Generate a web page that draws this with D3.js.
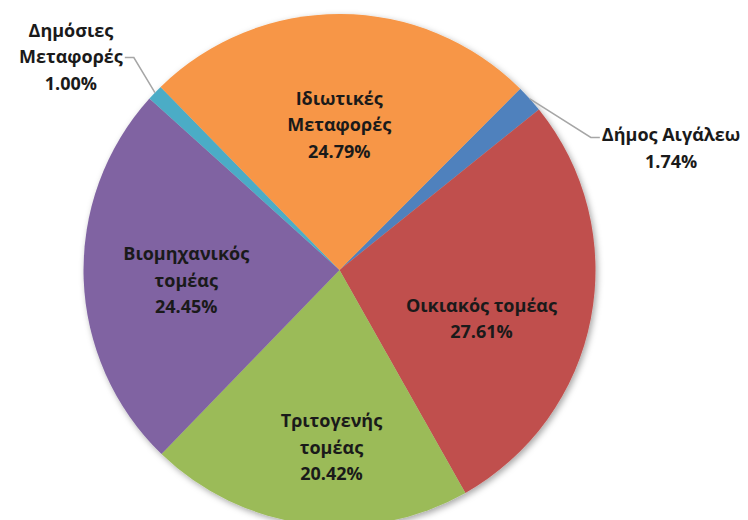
<!DOCTYPE html>
<html><head><meta charset="utf-8">
<script src="https://cdn.jsdelivr.net/npm/d3@7"></script>
<style>
html,body{margin:0;padding:0;background:#fff;}
text{font-family:"Open Sans",sans-serif;font-weight:bold;fill:#1a1a1a;}
</style></head>
<body><svg id="chart" width="748" height="520"></svg>
<script>
// ---- data ----
const categories = ["Δήμος Αιγάλεω", "Οικιακός τομέας", "Τριτογενής τομέας", "Βιομηχανικός τομέας", "Δημόσιες Μεταφορές", "Ιδιωτικές Μεταφορές"];
const labelLines = [["Δήμος Αιγάλεω"], ["Οικιακός τομέας"], ["Τριτογενής", "τομέας"], ["Βιομηχανικός", "τομέας"], ["Δημόσιες", "Μεταφορές"], ["Ιδιωτικές", "Μεταφορές"]];
const values = [1.74, 27.61, 20.42, 24.45, 1.00, 24.79];
const colors = ["#4F81BD", "#C0504D", "#9BBB59", "#8064A2", "#4BACC6", "#F79646"];

// ---- layout (label placement: radius factor & angle shift in degrees) ----
const labelRadius = [1.38, 0.586, 0.694, 0.60, 1.34, 0.567];
const labelAngleShift = [21.8, 8.0, -4.7, -1.9, -5.4, -0.4];
const outside = [true, false, false, false, true, false];

const W = 748, H = 520;
const cx = 339.5, cy = 270, R = 256;
const startDeg = 44.9;
const fontSize = 18, lineH = 26.5;

const svg = d3.select("#chart");
const defs = svg.append("defs");
const f = defs.append("filter").attr("id", "sh").attr("x", "-10%").attr("y", "-10%").attr("width", "120%").attr("height", "120%");
f.append("feDropShadow").attr("dx", 2).attr("dy", 2.5).attr("stdDeviation", 3).attr("flood-color", "#000").attr("flood-opacity", 0.35);

const rad = d => d * Math.PI / 180;
const pie = d3.pie().sort(null).value(d => d)
  .startAngle(rad(startDeg)).endAngle(rad(startDeg + 360));
const arcs = pie(values);
const arc = d3.arc().innerRadius(0).outerRadius(R);

const g = svg.append("g").attr("transform", `translate(${cx},${cy})`);
g.append("g").attr("filter", "url(#sh)")
  .selectAll("path").data(arcs).join("path")
  .attr("d", arc).attr("fill", (d, i) => colors[i]);

const pt = (angDeg, r) => [Math.sin(rad(angDeg)) * r, -Math.cos(rad(angDeg)) * r];

arcs.forEach((a, i) => {
  const mid = (a.startAngle + a.endAngle) / 2 * 180 / Math.PI;
  const [lx, ly] = pt(mid + labelAngleShift[i], R * labelRadius[i]);
  const lines = labelLines[i].concat([values[i].toFixed(2) + "%"]);
  const n = lines.length;
  const t = g.append("text").attr("text-anchor", "middle").style("font-size", fontSize + "px");
  lines.forEach((s, k) => {
    t.append("tspan").attr("x", lx).attr("y", ly + (k - (n - 1) / 2) * lineH + fontSize * 0.36).text(s);
  });
  if (outside[i]) {
    const bb = t.node().getBBox();
    const [ex, ey] = pt(mid, R);
    const right = lx > 0;
    const hy = right ? bb.y + 15 : bb.y + 40;
    const hx1 = right ? bb.x - 2 : bb.x + bb.width + 2;
    const hx2 = right ? hx1 - 9 : hx1 + 9;
    g.append("path")
      .attr("d", `M${ex},${ey}L${hx2},${hy}L${hx1},${hy}`)
      .attr("fill", "none").attr("stroke", "#a6a6a6").attr("stroke-width", 1.5);
  }
});
</script></body></html>
